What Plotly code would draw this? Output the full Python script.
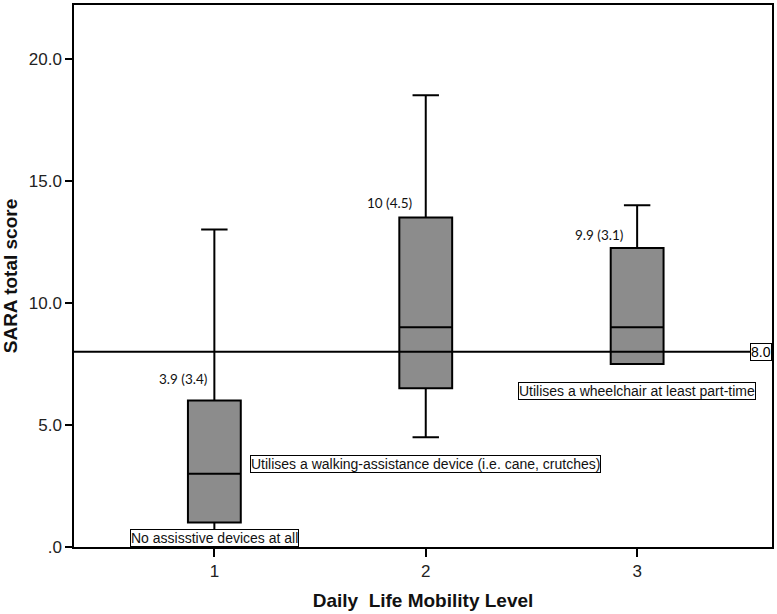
import plotly.graph_objects as go

# ---- data ----
levels = [1, 2, 3]
q1 = [1.0, 6.5, 7.5]
median = [3.0, 9.0, 9.0]
q3 = [6.0, 13.5, 12.25]
lower_fence = [0.0, 4.5, 7.5]
upper_fence = [13.0, 18.5, 14.0]

mean_sd_labels = ["3.9 (3.4)", "10 (4.5)", "9.9 (3.1)"]
mean_sd_x = [0.853, 1.83, 2.82]
mean_sd_y = [6.9, 14.08, 12.8]

group_labels = ["No assisstive devices at all",
                "Utilises a walking-assistance device (i.e. cane, crutches)",
                "Utilises a wheelchair at least part-time"]
group_label_y = [0.37, 3.39, 6.37]

cutoff = 8.0
y_tickvals = [0, 5, 10, 15, 20]
y_ticktext = [".0", "5.0", "10.0", "15.0", "20.0"]

fig = go.Figure()
fig.add_trace(go.Box(
    x=levels, q1=q1, median=median, q3=q3,
    lowerfence=lower_fence, upperfence=upper_fence,
    width=0.25, whiskerwidth=0.5,
    fillcolor="#8c8c8c",
    line=dict(color="black", width=2),
    boxpoints=False, hoverinfo="skip", showlegend=False,
))

fig.add_shape(type="line", xref="paper", x0=0, x1=1, yref="y", y0=cutoff, y1=cutoff,
              line=dict(color="black", width=2), layer="above")

fig.add_annotation(x=1, xref="paper", xanchor="right", y=cutoff, yref="y",
                   text=f"{cutoff:.1f}", showarrow=False,
                   font=dict(family="Liberation Sans, Arial", size=14, color="black"),
                   bgcolor="white", bordercolor="black", borderwidth=1, borderpad=0)

for x, y, t in zip(mean_sd_x, mean_sd_y, mean_sd_labels):
    fig.add_annotation(x=x, y=y, text=t, showarrow=False,
                       font=dict(family="Lato, Carlito, sans-serif", size=13.5, color="#111"))

for x, y, t in zip(levels, group_label_y, group_labels):
    fig.add_annotation(x=x, y=y, text=t, showarrow=False,
                       font=dict(family="Liberation Sans, Arial", size=14, color="#111"),
                       bgcolor="white", bordercolor="black", borderwidth=1, borderpad=0)

fig.update_layout(
    width=777, height=614,
    margin=dict(l=74, r=4, t=3, b=67),
    plot_bgcolor="white", paper_bgcolor="white",
    font=dict(family="Liberation Sans, Arial", color="#222"),
)
fig.update_xaxes(
    range=[0.336, 3.638], tickvals=levels, ticktext=[str(v) for v in levels],
    ticks="outside", ticklen=8, tickwidth=2, tickcolor="black",
    showline=True, linecolor="black", linewidth=1.5, mirror=True,
    showgrid=False, zeroline=False,
    tickfont=dict(size=17, color="#222"),
    title=dict(text="<b>Daily\u00a0 Life Mobility Level</b>",
               font=dict(size=19, color="#111", family="Liberation Sans, Arial"), standoff=14),
)
fig.update_yaxes(
    range=[0, 22.2], tickvals=y_tickvals, ticktext=y_ticktext,
    ticks="outside", ticklen=7, tickwidth=2, tickcolor="black",
    showline=True, linecolor="black", linewidth=1.5, mirror=True,
    showgrid=False, zeroline=False,
    tickfont=dict(size=17, color="#222"),
    title=dict(text="<b>SARA total score</b>",
               font=dict(size=19, color="#111", family="Liberation Sans, Arial"), standoff=8),
)

fig.write_html("out.html", config={"displayModeBar": False},
               post_script="document.body.style.margin='0';")
